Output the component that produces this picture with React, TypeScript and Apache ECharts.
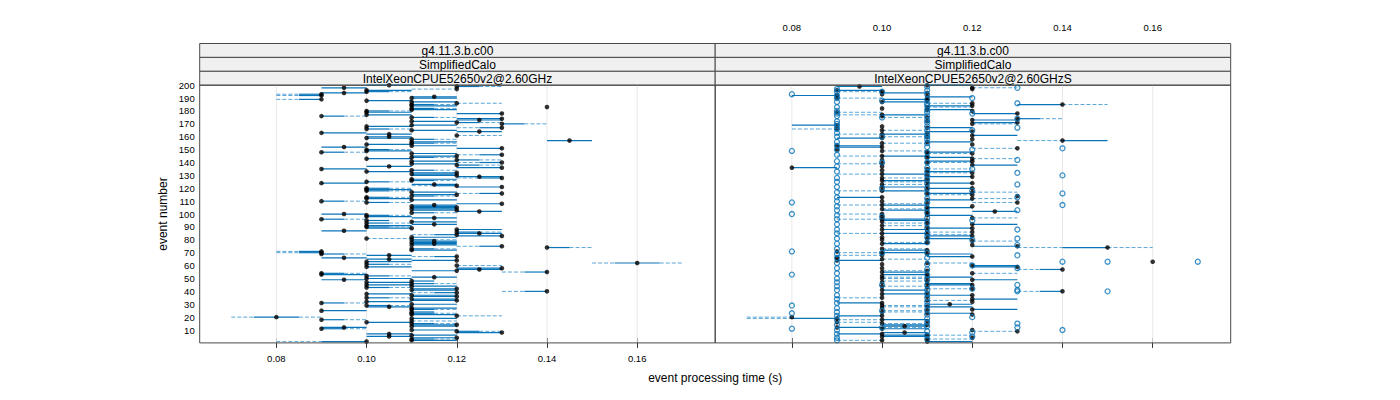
import React, { useEffect, useRef } from "react";
import * as echarts from "echarts";

const xTicks = [0.08, 0.1, 0.12, 0.14, 0.16];
const stripTop = "g4.11.3.b.c00";
const stripMid = "SimplifiedCalo";
const machines = ["IntelXeonCPUE52650v2@2.60GHz", "IntelXeonCPUE52650v2@2.60GHzS"];
const xTitle = "event processing time (s)";
const yTitle = "event number";

// [lo, q1, q3, hi] offsets from the median, in ms
const shapeOffsets = [
  [0, 0, 5, 10],
  [0, 0, 10, 10],
  [10, 5, 0, 0],
  [5, 5, 5, 5],
  [10, 5, 5, 10],
  [0, 0, 5, 5],
  [10, 10, 0, 0],
  [0, 0, 0, 10],
  [10, 0, 0, 0],
  [0, 0, 0, 0],
  [20, 10, 0, 0],
  [0, 0, 10, 20],
  [10, 0, 10, 10],
  [10, 10, 0, 10],
  [20, 10, 0, 10],
];

// medians per event 1..200, ms
const leftMedian = [
  100,110,110,120,105,110,105,130,120,110,90,95,110,120,110,100,110,90,110,80,
  120,110,110,110,90,110,110,105,100,110,90,100,120,110,100,120,110,100,120,140,
  110,120,100,110,100,110,100,110,95,100,115,100,90,90,140,120,125,130,100,120,
  100,160,100,120,105,95,120,105,90,90,90,110,110,140,130,110,115,110,115,110,
  100,110,130,120,125,120,95,120,110,100,100,115,100,110,100,90,115,100,100,95,
  110,125,120,110,120,110,115,130,100,90,110,100,100,110,120,130,110,100,100,100,
  130,120,115,90,100,110,110,130,125,120,110,120,100,110,90,130,105,120,110,130,
  110,120,100,110,120,130,110,90,100,100,130,95,110,100,110,110,145,110,100,105,
  120,105,90,125,110,100,130,100,110,130,120,110,125,130,110,90,100,130,100,100,
  110,110,140,110,110,120,110,100,90,110,115,90,90,95,100,100,120,95,120,105,
];
const leftShape = [
  10,1,0,6,3,1,3,6,0,1,0,3,1,6,0,1,7,0,1,4,
  7,1,0,5,1,0,1,3,0,1,0,1,6,1,0,6,1,1,2,2,
  1,6,0,1,1,0,1,5,3,1,3,0,1,0,2,6,3,6,1,7,
  0,4,1,6,3,3,2,3,0,2,2,1,0,0,2,1,3,1,3,0,
  7,1,6,2,3,0,3,1,6,0,1,3,0,1,5,0,3,1,0,3,
  0,3,6,1,6,1,3,6,0,0,1,1,0,0,6,2,1,0,1,0,
  6,2,3,1,0,0,1,2,3,6,1,6,1,0,1,6,3,0,1,2,
  1,0,1,0,6,2,1,0,1,0,6,3,1,1,0,1,3,0,1,3,
  7,3,1,3,1,0,2,1,1,0,0,1,3,6,0,0,1,6,1,0,
  1,0,9,1,0,7,1,1,2,1,3,2,2,3,0,1,8,3,0,3,
];

const rightMedian = [
  110,100,110,120,100,110,100,105,130,120,100,90,105,110,100,90,110,100,90,80,
  100,120,110,100,110,120,100,110,100,115,100,120,110,120,100,110,120,100,110,140,
  100,120,110,100,120,110,100,110,120,100,110,100,110,120,100,110,140,100,130,120,
  100,110,160,90,100,90,120,100,110,100,90,110,100,150,130,120,100,110,120,100,
  110,100,120,110,100,120,110,100,120,110,100,120,110,100,110,100,120,100,110,100,
  110,125,110,100,110,120,100,110,130,100,110,120,100,130,120,110,120,100,110,120,
  100,110,100,120,110,100,110,100,120,110,100,120,110,100,110,80,100,120,100,110,
  120,100,120,110,100,110,120,110,100,90,130,100,90,120,100,110,140,120,100,110,
  120,100,110,120,100,90,110,100,90,120,130,110,120,130,110,100,100,130,90,120,
  110,100,110,120,140,120,100,110,110,90,110,90,100,110,100,90,120,120,95,110,
];
const rightShape = [
  1,8,7,9,1,13,6,3,8,9,1,11,3,6,7,7,9,12,10,8,
  6,9,1,7,8,1,9,12,7,3,6,9,7,1,8,9,6,1,9,2,
  1,8,9,7,6,1,9,8,1,7,12,9,6,7,1,8,2,9,6,1,
  9,7,9,1,7,9,6,8,1,12,9,6,7,14,6,9,1,8,7,9,
  1,9,6,7,12,8,9,1,6,9,7,1,8,9,6,12,7,9,1,8,
  9,3,6,7,1,9,12,8,8,9,1,7,6,9,8,1,7,12,9,6,
  1,9,7,6,8,1,9,7,6,9,12,8,1,9,7,1,9,1,8,7,
  6,9,7,1,12,9,8,1,7,9,8,6,1,9,7,1,12,9,6,8,
  1,12,9,6,7,8,1,9,6,7,6,9,1,0,8,9,12,6,7,9,
  1,9,7,6,13,8,1,9,6,7,1,6,9,6,8,1,9,7,3,1,
];
// [event, ms] open circles in the right panel
const rightOutliers = [
  [193,80],[149,80],[109,80],[100,80],[71,80],[53,80],[29,80],[23,80],[11,80],
  [198,130],[186,130],[174,130],[167,130],[142,130],[132,130],[123,130],[113,130],[103,130],
  [88,130],[81,130],[76,130],[68,130],[58,130],[45,130],[41,130],[40,130],[15,130],[12,130],
  [151,140],[130,140],[116,140],[107,140],[10,140],[63,140],
  [63,150],[40,150],[63,170],
  [197,90],[195,90],[192,90],[190,90],[187,90],[183,90],[180,90],[178,90],[176,90],[172,90],
  [170,90],[168,90],[166,90],[163,90],[160,90],[156,90],[153,90],[150,90],[146,90],[141,90],
  [137,90],[133,90],[128,90],[125,90],[121,90],[117,90],[113,90],[110,90],[106,90],[103,90],
  [99,90],[96,90],[92,90],[88,90],[85,90],[81,90],[77,90],[73,90],[69,90],[66,90],[62,90],
  [58,90],[54,90],[50,90],[47,90],[44,90],[41,90],[37,90],[34,90],[31,90],[27,90],[24,90],
  [21,90],[18,90],[14,90],[10,90],[7,90],[4,90],[2,90],
  [199,110],[196,110],[193,110],[189,110],[186,110],[184,110],[181,110],[179,110],[176,110],
  [173,110],[171,110],[168,110],[165,110],[162,110],[160,110],[158,110],[155,110],[152,110],
  [148,110],[144,110],[140,110],[136,110],[133,110],[130,110],[127,110],[124,110],[120,110],
  [116,110],[112,110],[109,110],[105,110],[101,110],[97,110],[93,110],[89,110],[85,110],
  [82,110],[78,110],[70,110],[66,110],[61,110],[57,110],[53,110],[49,110],[45,110],[41,110],
  [38,110],[35,110],[32,110],[29,110],[26,110],[22,110],[19,110],[16,110],[13,110],[9,110],
  [6,110],[3,110],
  [195,100],[188,100],[175,100],[160,100],[140,100],[120,100],[98,100],[70,100],[45,100],[25,100],[12,100],
  [190,120],[178,120],[165,120],[150,120],[135,120],[118,120],[95,120],[80,120],[60,120],[42,120],[20,120],[8,120],[5,120],
];

const FONT = "'Liberation Sans', Arial, Helvetica, sans-serif";
const SOLID = "#0a74b8";
const DASH = "#5aa6d8";
const BORDER = "#4a4a4a";

const XMIN = 0.063;
const XMAX = 0.1773;
const P1 = 199.7;
const PW = 515.5;
const P2 = P1 + PW;
const PT = 85.2;
const PH = 257.7;
const ST = 43.5;
const SH = 13.9;

function boxRows(med: number[], shape: number[]) {
  return med.map((m, i) => {
    const o = shapeOffsets[shape[i]];
    return [i + 1, (m - o[0]) / 1000, (m - o[1]) / 1000, (m + o[2]) / 1000, (m + o[3]) / 1000];
  });
}

function renderBox(params: any, api: any) {
  const e = api.value(0);
  const lo = api.value(1), q1 = api.value(2), q3 = api.value(3), hi = api.value(4);
  const y = api.coord([lo, e])[1];
  const X = (v: number) => api.coord([v, e])[0];
  const children: any[] = [];
  if (q1 > lo + 1e-9)
    children.push({ type: "line", shape: { x1: X(lo), y1: y, x2: X(q1), y2: y }, style: { stroke: DASH, lineWidth: 1, lineDash: [4, 2] } });
  if (hi > q3 + 1e-9)
    children.push({ type: "line", shape: { x1: X(q3), y1: y, x2: X(hi), y2: y }, style: { stroke: DASH, lineWidth: 1, lineDash: [4, 2] } });
  if (q3 > q1 + 1e-9)
    children.push({ type: "line", shape: { x1: X(q1), y1: y, x2: X(q3), y2: y }, style: { stroke: SOLID, lineWidth: 1.2 } });
  return { type: "group", children };
}

function renderGrid(params: any, api: any) {
  const v = api.value(0);
  const a = api.coord([v, 0]);
  const b = api.coord([v, 200]);
  return { type: "line", shape: { x1: a[0], y1: a[1], x2: b[0], y2: b[1] }, style: { stroke: "#e8e8e8", lineWidth: 1 } };
}

function xAxisCfg(gridIndex: number, position: string, labels: boolean) {
  return {
    type: "value",
    gridIndex,
    position,
    min: XMIN,
    max: XMAX,
    axisLine: { show: false },
    splitLine: { show: false },
    axisTick: { show: true, customValues: xTicks, length: 5, lineStyle: { color: "#333", width: 1 } },
    axisLabel: {
      show: labels,
      customValues: xTicks,
      formatter: (v: number) => v.toFixed(2),
      fontSize: 9.5,
      fontFamily: FONT,
      color: "#000",
      margin: 11,
    },
  };
}

function yAxisCfg(gridIndex: number, labels: boolean, show: boolean) {
  return {
    type: "value",
    gridIndex,
    show,
    min: 0,
    max: 200,
    interval: 10,
    axisLine: { show: false },
    axisTick: { show: false },
    splitLine: { show: false },
    axisLabel: {
      show: labels,
      showMinLabel: false,
      fontSize: 9.5,
      fontFamily: FONT,
      color: "#000",
      margin: 5,
    },
  };
}

function textEl(text: string, x: number, y: number, size: number, rotation = 0) {
  return {
    type: "text",
    x,
    y,
    rotation,
    silent: true,
    style: {
      text,
      fill: "#000",
      fontSize: size,
      fontFamily: FONT,
      align: "center",
      verticalAlign: "middle",
      textAlign: "center",
      textVerticalAlign: "middle",
    },
  };
}

export default function App() {
  const ref = useRef<HTMLDivElement>(null);
  useEffect(() => {
    document.body.style.margin = "0";
    if (!ref.current) return;
    const chart = echarts.init(ref.current, undefined, { renderer: "svg" });

    const graphics: any[] = [];
    [P1, P2].forEach((left, k) => {
      const labels = [stripTop, stripMid, machines[k]];
      labels.forEach((t, j) => {
        graphics.push({
          type: "rect",
          silent: true,
          shape: { x: left, y: ST + j * SH, width: PW, height: SH },
          style: { fill: "#f0f0f0", stroke: BORDER, lineWidth: 1 },
        });
        graphics.push(textEl(t, left + PW / 2, ST + j * SH + SH / 2 + 0.5, 12));
      });
      graphics.push({
        type: "rect",
        silent: true,
        z: 100,
        shape: { x: left, y: PT, width: PW, height: PH },
        style: { fill: "none", stroke: BORDER, lineWidth: 1 },
      });
    });
    graphics.push(textEl(xTitle, P2, 378, 12));
    graphics.push(textEl(yTitle, 163, PT + PH / 2, 12, Math.PI / 2));

    const leftBoxes = boxRows(leftMedian, leftShape);
    const rightBoxes = boxRows(rightMedian, rightShape);
    const gridData = xTicks.map((v) => [v]);

    const option: any = {
      animation: false,
      grid: [
        { left: P1, top: PT, width: PW, height: PH },
        { left: P2, top: PT, width: PW, height: PH },
        { left: P1, top: ST, width: PW, height: PT + PH - ST },
        { left: P2, top: ST, width: PW, height: PT + PH - ST },
      ],
      xAxis: [
        xAxisCfg(0, "bottom", true),
        xAxisCfg(1, "bottom", false),
        xAxisCfg(2, "top", false),
        xAxisCfg(3, "top", true),
      ],
      yAxis: [yAxisCfg(0, true, true), yAxisCfg(1, false, true), yAxisCfg(2, false, false), yAxisCfg(3, false, false)],
      graphic: { elements: graphics },
      series: [
        { type: "custom", xAxisIndex: 0, yAxisIndex: 0, data: gridData, renderItem: renderGrid, encode: { x: 0 }, silent: true, z: 1 },
        { type: "custom", xAxisIndex: 1, yAxisIndex: 1, data: gridData, renderItem: renderGrid, encode: { x: 0 }, silent: true, z: 1 },
        { type: "custom", xAxisIndex: 0, yAxisIndex: 0, data: leftBoxes, renderItem: renderBox, encode: { x: [1, 2, 3, 4], y: 0 }, silent: true, z: 2 },
        { type: "custom", xAxisIndex: 1, yAxisIndex: 1, data: rightBoxes, renderItem: renderBox, encode: { x: [1, 2, 3, 4], y: 0 }, silent: true, z: 2 },
        {
          type: "scatter", xAxisIndex: 0, yAxisIndex: 0, silent: true, z: 3,
          symbol: "circle", symbolSize: 4.6, itemStyle: { color: "#000" },
          data: leftMedian.map((m, i) => [m / 1000, i + 1]),
        },
        {
          type: "scatter", xAxisIndex: 1, yAxisIndex: 1, silent: true, z: 3,
          symbol: "circle", symbolSize: 4.6, itemStyle: { color: "#000" },
          data: rightMedian.map((m, i) => [m / 1000, i + 1]),
        },
        {
          type: "scatter", xAxisIndex: 1, yAxisIndex: 1, silent: true, z: 4,
          symbol: "circle", symbolSize: 5, itemStyle: { color: "rgba(0,0,0,0)", borderColor: SOLID, borderWidth: 1.3 },
          data: rightOutliers.map((p) => [p[1] / 1000, p[0]]),
        },
      ],
    };
    chart.setOption(option);
    return () => chart.dispose();
  }, []);
  return <div ref={ref} style={{ width: 1400, height: 400 }} />;
}
